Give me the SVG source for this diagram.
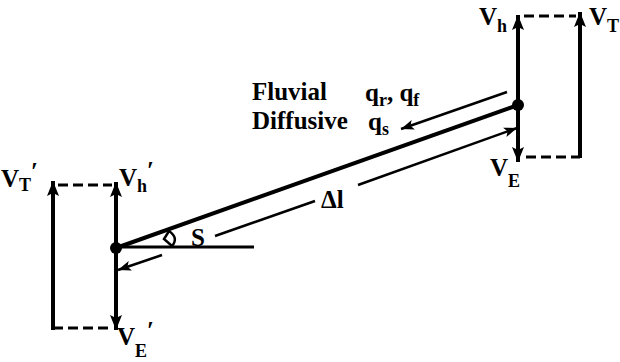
<svg xmlns="http://www.w3.org/2000/svg" width="620" height="362" viewBox="0 0 620 362">
<defs>
<marker id="ah" markerUnits="userSpaceOnUse" markerWidth="16" markerHeight="14" viewBox="0 0 16 14" refX="15" refY="7" orient="auto">
<path d="M0,1 L15,7 L0,13 L3,7 Z" fill="#000"/>
</marker>
<marker id="ahs" markerUnits="userSpaceOnUse" markerWidth="14" markerHeight="12" viewBox="0 0 14 12" refX="13" refY="6" orient="auto">
<path d="M0,1 L13,6 L0,11 L3,6 Z" fill="#000"/>
</marker>
</defs>
<style>
.thick{stroke:#000;stroke-width:4;fill:none}
.med{stroke:#000;stroke-width:3;fill:none}
.thin{stroke:#000;stroke-width:2.5;fill:none}
.dash{stroke:#000;stroke-width:3;stroke-dasharray:10,5;fill:none}
</style>
<rect width="620" height="362" fill="#fff"/>
<g id="connectors">
<line class="thick" x1="116" y1="248" x2="518" y2="105"/>
<line class="med" x1="116" y1="247" x2="254" y2="247"/>
<line class="thin" x1="507" y1="92" x2="401" y2="129" marker-end="url(#ahs)"/>
<line class="thin" x1="162" y1="255" x2="118" y2="270" marker-end="url(#ahs)"/>
<line class="thin" x1="215" y1="236" x2="315" y2="201"/>
<line class="thin" x1="358" y1="185" x2="517" y2="128" marker-end="url(#ahs)"/>
<path class="thin" d="M169,231 Q179,238 172,246 L164,239 Z"/>
</g>
<g id="right-node" font-family="Liberation Serif, DejaVu Serif, serif" font-weight="bold" font-size="25">
<line class="thick" x1="518" y1="105" x2="518" y2="15" marker-end="url(#ah)"/>
<line class="thick" x1="518" y1="105" x2="518" y2="162" marker-end="url(#ah)"/>
<line class="thick" x1="580" y1="158" x2="580" y2="12" marker-end="url(#ah)"/>
<line class="dash" x1="524" y1="16" x2="576" y2="16"/>
<line class="dash" x1="526" y1="157" x2="580" y2="157"/>
<circle cx="518" cy="105" r="6" fill="#000"/>
<text x="479" y="25">V<tspan font-size="18" y="32">h</tspan></text>
<text x="589" y="25">V<tspan font-size="18" y="32">T</tspan></text>
<text x="490" y="176">V<tspan font-size="18" y="187">E</tspan></text>
</g>
<g id="left-node" font-family="Liberation Serif, DejaVu Serif, serif" font-weight="bold" font-size="25">
<line class="thick" x1="116" y1="248" x2="116" y2="182" marker-end="url(#ah)"/>
<line class="thick" x1="116" y1="248" x2="116" y2="330" marker-end="url(#ah)"/>
<line class="thick" x1="53" y1="330" x2="53" y2="181" marker-end="url(#ah)"/>
<line class="dash" x1="58" y1="185" x2="112" y2="185"/>
<line class="dash" x1="53" y1="328" x2="112" y2="328"/>
<circle cx="116" cy="248" r="6" fill="#000"/>
<text x="1" y="187">V<tspan font-size="18" y="191">T</tspan><tspan y="180">′</tspan></text>
<text x="119" y="186">V<tspan font-size="18" y="192">h</tspan><tspan y="179">′</tspan></text>
<text x="117" y="345">V<tspan font-size="18" y="357">E</tspan><tspan y="339">′</tspan></text>
</g>
<g id="labels" font-family="Liberation Serif, DejaVu Serif, serif" font-weight="bold" font-size="25">
<text x="252" y="100">Fluvial</text>
<text x="252" y="129">Diffusive</text>
<text x="365" y="101">q<tspan font-size="18" y="106">r</tspan><tspan y="101">, q</tspan><tspan font-size="18" y="106">f</tspan></text>
<text x="368" y="130">q<tspan font-size="18" y="135">s</tspan></text>
<text x="321" y="208">Δl</text>
<text x="191" y="246">S</text>
</g>
</svg>
